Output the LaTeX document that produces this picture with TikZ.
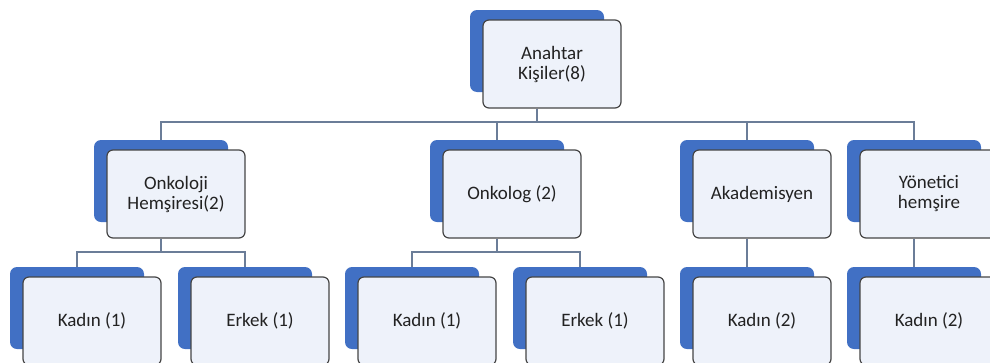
\documentclass[tikz,border=0pt]{standalone}
\usepackage{fontspec}
\setmainfont{Carlito}
\usetikzlibrary{positioning,calc}
\definecolor{boxblue}{HTML}{4170C4}
\definecolor{boxfill}{HTML}{EEF2FA}
\definecolor{boxline}{HTML}{454545}
\definecolor{textgray}{HTML}{222222}
\definecolor{linkline}{HTML}{6B7D98}

\begin{document}
\begin{tikzpicture}
            [
            x=1pt, y=-1pt,
            back/.style={rectangle, fill=boxblue, minimum width=134pt,
                minimum height=82pt, inner sep=0pt, rounded corners=7pt},
            front/.style={rectangle, draw=boxline, line width=1.2pt, fill=boxfill,
                minimum width=138pt, minimum height=88pt, inner sep=0pt,
                rounded corners=6pt, align=center, text=textgray,
                font=\fontsize{19}{20}\selectfont, xshift=15pt, yshift=-13pt},
            link/.style={draw=linkline, line width=2.6pt}
            ]

            \useasboundingbox (0,0) rectangle (990,362);
            \clip (0,0) rectangle (990,362);

            % Top level
            \node (topb) [back] at (537,51) {};
            \node (topf) [front] at (topb) {Anahtar\\Kişiler(8)};

            % Second level
            \node (ohb) [back] at (161,181) {};
            \node (ohf) [front] at (ohb) {Onkoloji\\Hemşiresi(2)};
            \node (onkb) [back] at (497,181) {};
            \node (onkf) [front] at (onkb) {Onkolog (2)};
            \node (akab) [back] at (747,181) {};
            \node (akaf) [front] at (akab) {Akademisyen};
            \node (yonb) [back] at (914,181) {};
            \node (yonf) [front] at (yonb) {Yönetici\\hemşire};

            % Third level
            \node (k1b) [back] at (77,308) {};
            \node (k1f) [front] at (k1b) {Kadın (1)};
            \node (e1b) [back] at (245,308) {};
            \node (e1f) [front] at (e1b) {Erkek (1)};
            \node (k2b) [back] at (412,308) {};
            \node (k2f) [front] at (k2b) {Kadın (1)};
            \node (e2b) [back] at (580,308) {};
            \node (e2f) [front] at (e2b) {Erkek (1)};
            \node (k3b) [back] at (747,308) {};
            \node (k3f) [front] at (k3b) {Kadın (2)};
            \node (k4b) [back] at (914,308) {};
            \node (k4f) [front] at (k4b) {Kadın (2)};

            % Connectors
            \coordinate (bar0) at (537,122);
            \coordinate (bar1) at (161,252);
            \coordinate (bar2) at (497,252);

            \foreach \c in {ohb, onkb, akab, yonb}{
                \draw [link] (topb |- topf.south) -- (bar0) -| (\c.north);
            }
            \foreach \c in {k1b, e1b}{
                \draw [link] (ohb |- ohf.south) -- (bar1) -| (\c.north);
            }
            \foreach \c in {k2b, e2b}{
                \draw [link] (onkb |- onkf.south) -- (bar2) -| (\c.north);
            }
            \draw [link] (akab |- akaf.south) -- (k3b.north);
            \draw [link] (yonb |- yonf.south) -- (k4b.north);

        \end{tikzpicture}
\end{document}
